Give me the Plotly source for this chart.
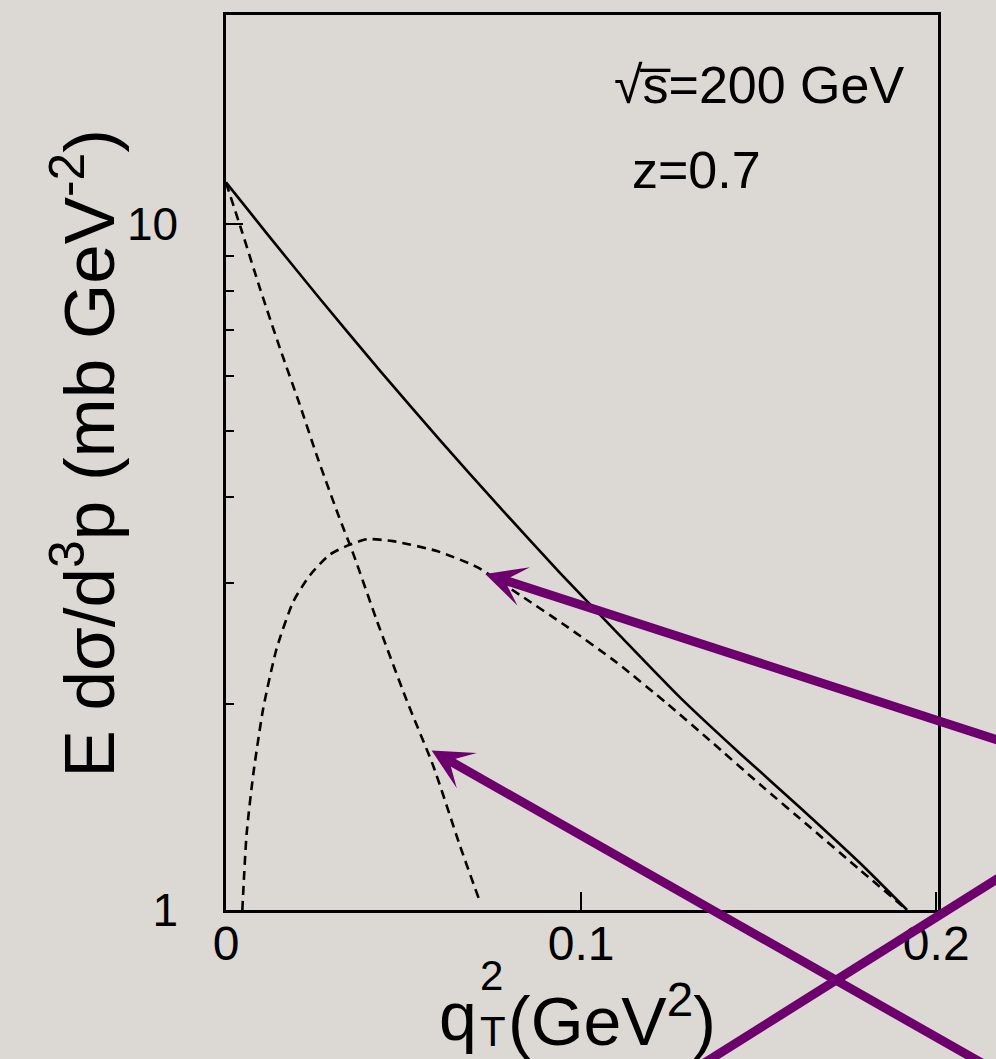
import plotly.graph_objects as go
import numpy as np

# ---- data ----
solid_x = [0.0, 0.0113, 0.0265, 0.0434, 0.0603, 0.0772, 0.0941, 0.1110, 0.1279, 0.1448, 0.1617, 0.1786, 0.1918]
solid_y = [11.51, 9.72, 7.78, 6.11, 4.84, 3.86, 3.10, 2.51, 2.04, 1.69, 1.41, 1.17, 1.0]

steep_x = [0.0, 0.0044, 0.0096, 0.0152, 0.0208, 0.0255, 0.0316, 0.0359, 0.0425, 0.0509, 0.0584, 0.0659, 0.0713]
steep_y = [11.5, 9.79, 8.05, 6.59, 5.45, 4.61, 3.77, 3.30, 2.64, 2.02, 1.62, 1.24, 1.035]

hump_x = [0.0046, 0.0058, 0.0077, 0.0105, 0.0143, 0.0190, 0.0237, 0.0293, 0.0349, 0.0397, 0.0470,
          0.0594, 0.0707, 0.0828, 0.0961, 0.1101, 0.1242, 0.1363, 0.1504, 0.1645, 0.1786, 0.1918]
hump_y = [1.0, 1.29, 1.58, 1.97, 2.41, 2.82, 3.08, 3.30, 3.41, 3.473, 3.450,
          3.337, 3.162, 2.879, 2.587, 2.294, 2.000, 1.766, 1.524, 1.320, 1.143, 1.0]

x_ticks = [0, 0.1, 0.2]
x_ticktext = ["0", "0.1", "0.2"]
y_ticks = [1, 10]
y_ticktext = ["1", "10"]
y_minor = [2, 3, 4, 5, 6, 7, 8, 9]

x_range = [0, 0.2005]
y_range_log = [0, 1.305]

# arrows: (tip_x, tip_y, tail_x, tail_y) in data units (y as value)
arrows = [
    (0.0730, 3.09, 0.2180, 1.765),
    (0.0579, 1.708, 0.2169, 0.582),
]

W, H = 996, 1059
ML, MR, MT, MB = 226, 58, 12, 149
PW, PH = W - ML - MR, H - MT - MB

def px2paper_x(px):
    return (px - ML) / PW

def px2paper_y(py):
    return (H - MB - py) / PH

purple = "#6e006e"
bg = "#dcd9d4"
font_family = "Liberation Sans, Arial, Helvetica, sans-serif"

fig = go.Figure()
fig.add_trace(go.Scatter(x=solid_x, y=solid_y, mode="lines",
                         line=dict(color="black", width=2.6, shape="spline", smoothing=0.6),
                         showlegend=False))
fig.add_trace(go.Scatter(x=steep_x, y=steep_y, mode="lines",
                         line=dict(color="black", width=2.6, dash="9px,6px", shape="spline", smoothing=0.6),
                         showlegend=False))
fig.add_trace(go.Scatter(x=hump_x, y=hump_y, mode="lines",
                         line=dict(color="black", width=2.6, dash="9px,6px", shape="spline", smoothing=0.6),
                         showlegend=False))

annotations = []
for tx, ty, ax_, ay_ in arrows:
    annotations.append(dict(x=tx, y=np.log10(ty), ax=ax_, ay=np.log10(ay_),
                            xref="x", yref="y", axref="x", ayref="y",
                            text="", showarrow=True, arrowhead=3, arrowsize=0.75,
                            arrowwidth=9, arrowcolor=purple, standoff=0))

# texts
annotations.append(dict(x=px2paper_x(612), y=px2paper_y(82), xref="paper", yref="paper",
                        text="√s\u0305=200 GeV", showarrow=False, xanchor="left", yanchor="middle",
                        font=dict(size=52, color="black", family=font_family)))
annotations.append(dict(x=px2paper_x(630), y=px2paper_y(168), xref="paper", yref="paper",
                        text="z=0.7", showarrow=False, xanchor="left", yanchor="middle",
                        font=dict(size=52, color="black", family=font_family)))
# y axis title
annotations.append(dict(x=px2paper_x(84), y=px2paper_y(452), xref="paper", yref="paper",
                        text="E dσ/d<sup>3</sup>p (mb GeV<sup>-2</sup>)", textangle=-90,
                        showarrow=False, xanchor="center", yanchor="middle",
                        font=dict(size=71, color="black", family=font_family)))
# x axis title pieces
annotations.append(dict(x=px2paper_x(479), y=px2paper_y(1016), xref="paper", yref="paper",
                        text="q", showarrow=False, xanchor="right", yanchor="middle",
                        font=dict(size=68, color="black", family=font_family)))
annotations.append(dict(x=px2paper_x(478), y=px2paper_y(976), xref="paper", yref="paper",
                        text="2", showarrow=False, xanchor="left", yanchor="middle",
                        font=dict(size=42, color="black", family=font_family)))
annotations.append(dict(x=px2paper_x(478), y=px2paper_y(1032), xref="paper", yref="paper",
                        text="T", showarrow=False, xanchor="left", yanchor="middle",
                        font=dict(size=42, color="black", family=font_family)))
annotations.append(dict(x=px2paper_x(506), y=px2paper_y(1016), xref="paper", yref="paper",
                        text="(GeV<sup>2</sup>)", showarrow=False, xanchor="left", yanchor="middle",
                        font=dict(size=68, color="black", family=font_family)))

# third purple line (crossing), in paper coords
cross_line = (694, 1070, 1000, 877)
shapes = [dict(type="line", xref="paper", yref="paper",
               x0=px2paper_x(cross_line[0]), y0=px2paper_y(cross_line[1]),
               x1=px2paper_x(cross_line[2]), y1=px2paper_y(cross_line[3]),
               line=dict(color=purple, width=9), layer="above")]

fig.update_layout(
    width=W, height=H,
    margin=dict(l=ML, r=MR, t=MT, b=MB, pad=0),
    paper_bgcolor=bg, plot_bgcolor=bg,
    font=dict(family=font_family, color="black"),
    annotations=annotations, shapes=shapes,
    showlegend=False,
)
fig.update_xaxes(range=x_range, showgrid=False, zeroline=False,
                 showline=True, linecolor="black", linewidth=2.5, mirror=True,
                 ticks="inside", ticklen=18, tickwidth=1.8, tickcolor="black",
                 tickvals=x_ticks, ticktext=x_ticktext,
                 tickfont=dict(size=48, color="black", family=font_family),
                 ticklabelstandoff=-10)
fig.update_yaxes(type="log", range=y_range_log, showgrid=False, zeroline=False,
                 showline=True, linecolor="black", linewidth=2.5, mirror=True,
                 ticks="inside", ticklen=17, tickwidth=1.8, tickcolor="black",
                 tickvals=y_ticks, ticktext=y_ticktext,
                 tickfont=dict(size=46, color="black", family=font_family),
                 ticklabelstandoff=36,
                 minor=dict(tickvals=y_minor, ticks="inside", ticklen=8, tickwidth=1.8,
                            tickcolor="black", showgrid=False))

fig.write_html("out.html")
